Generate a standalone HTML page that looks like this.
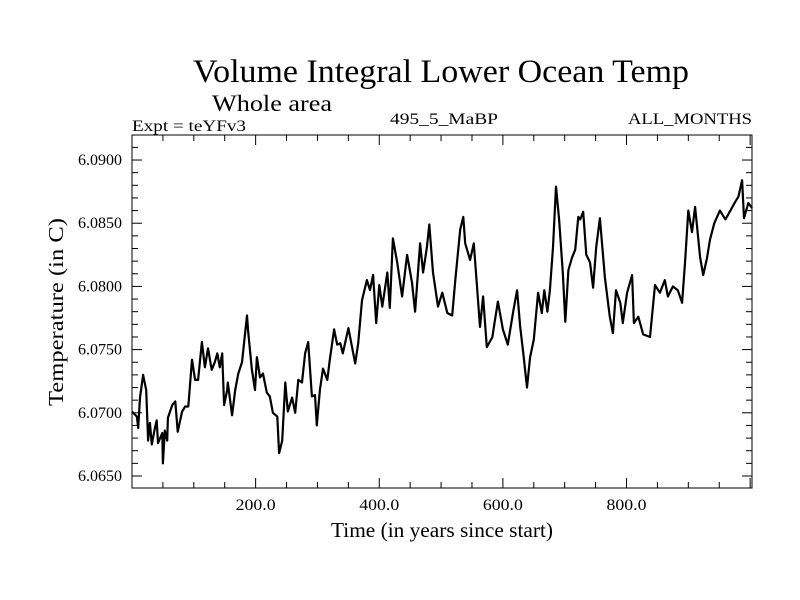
<!DOCTYPE html>
<html><head><meta charset="utf-8"><style>
html,body{margin:0;padding:0;background:#fff;}
svg{display:block;font-family:"Liberation Serif",serif;}
</style></head><body>
<svg id="chart" width="800" height="600" viewBox="0 0 800 600">
<text x="441" y="82" font-size="33" text-anchor="middle" textLength="496" lengthAdjust="spacingAndGlyphs">Volume Integral Lower Ocean Temp</text>
<text x="212" y="111" font-size="23" textLength="120" lengthAdjust="spacingAndGlyphs">Whole area</text>
<text x="132" y="131" font-size="16" textLength="114" lengthAdjust="spacingAndGlyphs">Expt = teYFv3</text>
<text x="444" y="124" font-size="16" text-anchor="middle" textLength="108" lengthAdjust="spacingAndGlyphs">495_5_MaBP</text>
<text x="752" y="124" font-size="16" text-anchor="end" textLength="124" lengthAdjust="spacingAndGlyphs">ALL_MONTHS</text>
<text x="442" y="537" font-size="21" text-anchor="middle" textLength="222" lengthAdjust="spacingAndGlyphs">Time (in years since start)</text>
<text transform="translate(63,312) rotate(-90)" font-size="21" text-anchor="middle" textLength="188" lengthAdjust="spacingAndGlyphs">Temperature (in C)</text>
<g id="axes"></g>
<path id="series" fill="none" stroke="#000" stroke-width="2.2" stroke-linejoin="round"></path>
<rect x="132" y="135" width="620" height="353" fill="none" stroke="#000" stroke-width="1"></rect>
</svg>
<script>
const years = [0,8,10,13,18,23,26,29,32,37,40,42,49,50,53,57,58,65,70,74,81,86,91,97,102,107,113,118,123,129,134,138,142,146,149,154,155,162,167,172,178,186,188,194,199,202,207,212,218,223,228,235,238,243,248,252,259,264,269,275,280,285,291,296,299,304,309,316,320,327,332,337,341,350,361,366,372,380,385,390,395,400,405,413,417,422,429,437,445,453,458,466,471,477,481,487,495,502,510,518,523,531,536,539,547,553,563,568,574,583,587,592,600,608,617,623,628,633,639,644,650,657,663,667,672,676,681,686,691,697,701,706,712,717,722,725,730,735,741,746,751,757,765,773,778,783,790,794,801,809,812,819,827,838,846,854,862,867,875,883,890,895,900,906,911,919,924,930,935,942,951,960,968,976,981,987,990,997,1003];
const temps = [6.0701,6.0697,6.0688,6.0712,6.0730,6.0718,6.0678,6.0692,6.0675,6.0688,6.0694,6.0676,6.0684,6.0660,6.0686,6.0678,6.0696,6.0706,6.0709,6.0685,6.0701,6.0705,6.0705,6.0742,6.0726,6.0726,6.0756,6.0736,6.0751,6.0734,6.0740,6.0747,6.0736,6.0747,6.0706,6.0718,6.0724,6.0698,6.0718,6.0731,6.0740,6.0777,6.0764,6.0734,6.0718,6.0744,6.0728,6.0731,6.0716,6.0713,6.0700,6.0697,6.0668,6.0678,6.0724,6.0701,6.0712,6.0700,6.0726,6.0724,6.0747,6.0756,6.0713,6.0714,6.0690,6.0718,6.0735,6.0726,6.0742,6.0766,6.0754,6.0755,6.0747,6.0767,6.0739,6.0755,6.0789,6.0805,6.0797,6.0809,6.0771,6.0801,6.0784,6.0811,6.0783,6.0838,6.0819,6.0792,6.0825,6.0803,6.0780,6.0834,6.0811,6.0831,6.0849,6.0811,6.0784,6.0795,6.0779,6.0777,6.0805,6.0845,6.0855,6.0834,6.0821,6.0834,6.0768,6.0792,6.0752,6.0760,6.0773,6.0788,6.0766,6.0754,6.0781,6.0797,6.0768,6.0747,6.0720,6.0744,6.0758,6.0795,6.0779,6.0797,6.0780,6.0797,6.0831,6.0879,6.0853,6.0811,6.0772,6.0813,6.0823,6.0829,6.0855,6.0853,6.0859,6.0825,6.0819,6.0799,6.0831,6.0854,6.0807,6.0776,6.0763,6.0797,6.0787,6.0771,6.0795,6.0809,6.0771,6.0776,6.0762,6.0760,6.0801,6.0795,6.0805,6.0792,6.0800,6.0797,6.0787,6.0821,6.0860,6.0843,6.0863,6.0823,6.0809,6.0822,6.0837,6.0850,6.0860,6.0853,6.0860,6.0867,6.0871,6.0884,6.0854,6.0866,6.0862];
const xTickLabels = ["200.0","400.0","600.0","800.0"];
const yTickLabels = ["6.0650","6.0700","6.0750","6.0800","6.0850","6.0900"];

const X0=132,X1=752,Y0=488,Y1=135;
const xMin=0,xMax=1003,yMin=6.06405,yMax=6.09198;
function sx(v){return X0+(v-xMin)/(xMax-xMin)*(X1-X0);}
function sy(v){return Y0-(v-yMin)/(yMax-yMin)*(Y0-Y1);}
const NS="http://www.w3.org/2000/svg";
const axes=document.getElementById('axes');
function line(x1,y1,x2,y2,name){
  const l=document.createElementNS(NS,'line');
  l.setAttribute('x1',x1);l.setAttribute('y1',y1);l.setAttribute('x2',x2);l.setAttribute('y2',y2);
  l.setAttribute('stroke','#000');l.setAttribute('stroke-width','1');
  
  
  axes.appendChild(l);
}
function text(x,y,s,anchor,name,len){
  const t=document.createElementNS(NS,'text');
  t.setAttribute('x',x);t.setAttribute('y',y);t.setAttribute('font-size','16');
  t.setAttribute('text-anchor',anchor);t.textContent=s;
  t.setAttribute('textLength',len);t.setAttribute('lengthAdjust','spacingAndGlyphs');
  
  
  axes.appendChild(t);
}
for(let v=50;v<xMax;v+=50){
  const x=sx(v), major=(v%200===0), len=major?10:6;
  line(x,Y0,x,Y0-len,'x-tick');
  line(x,Y1,x,Y1+len,'x-tick-top');
}
xTickLabels.forEach(s=>{const v=parseFloat(s);text(sx(v),510,s,'middle','x-tick-label',40);});
for(let i=0;i<=27;i++){
  const v=6.065+i*0.001; if(v>yMax)break;
  const y=sy(v), major=(i%5===0), len=major?10:6;
  line(X0,y,X0+len,y,'y-tick');
  line(X1,y,X1-len,y,'y-tick-right');
}
yTickLabels.forEach(s=>{const v=parseFloat(s);text(122,sy(v)+5,s,'end','y-tick-label',44);});
let d='';
years.forEach((t,i)=>{d+=(i?'L':'M')+sx(t).toFixed(1)+','+sy(temps[i]).toFixed(1);});
document.getElementById('series').setAttribute('d',d);
</script>
</body></html>
